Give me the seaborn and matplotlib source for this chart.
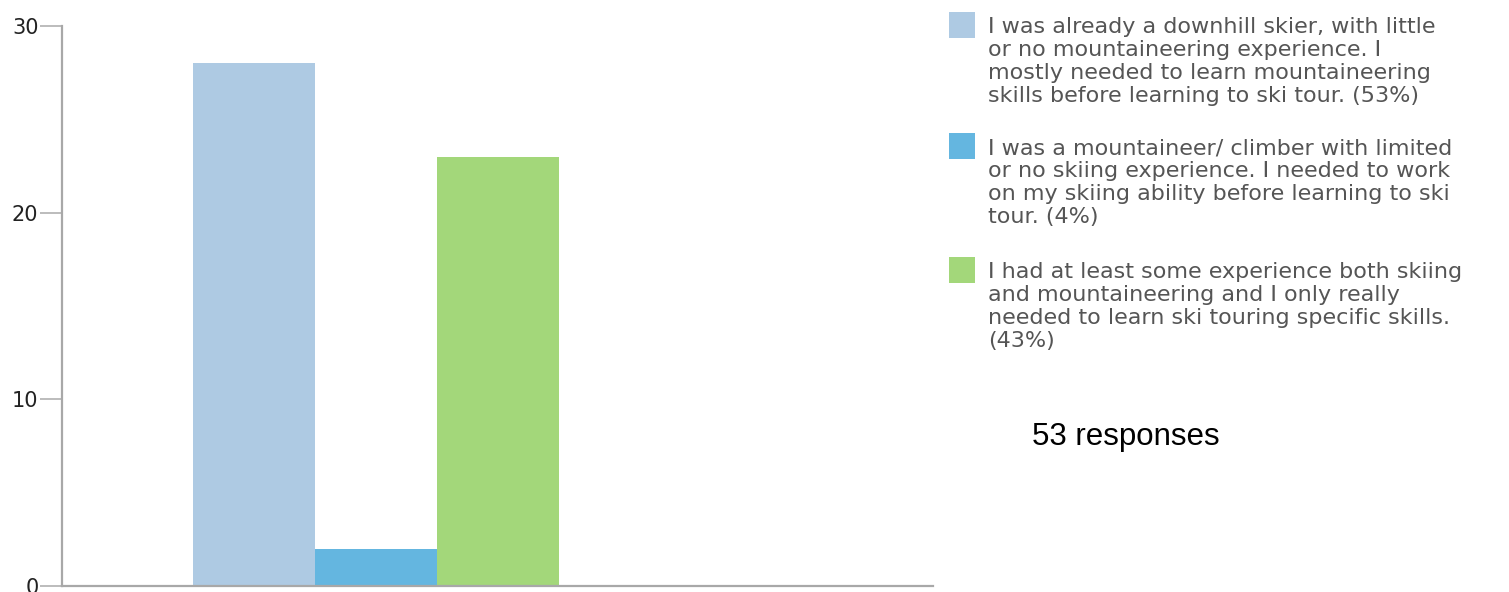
import matplotlib
matplotlib.use("Agg")
import matplotlib.pyplot as plt
import seaborn as sns
from matplotlib.patches import Rectangle

# data
categories = ["downhill", "mountaineer", "both"]
counts = [28, 2, 23]
colors = ["#aecae3", "#64b6e0", "#a3d77a"]
labels = [
    "I was already a downhill skier, with little\nor no mountaineering experience. I\nmostly needed to learn mountaineering\nskills before learning to ski tour. (53%)",
    "I was a mountaineer/ climber with limited\nor no skiing experience. I needed to work\non my skiing ability before learning to ski\ntour. (4%)",
    "I had at least some experience both skiing\nand mountaineering and I only really\nneeded to learn ski touring specific skills.\n(43%)",
]
yticks = [0, 10, 20, 30]

sns.set_style("white")
plt.rcParams['font.family'] = ['DejaVu Sans']

W, H = 1509, 592
fig = plt.figure(figsize=(W / 100, H / 100), dpi=100)
ax = fig.add_axes([62 / W, 1 - 586 / H, (933 - 62) / W, (586 - 26) / H])

sns.barplot(x=categories, y=counts, hue=categories, palette=colors, width=1.0,
            saturation=1, legend=False, linewidth=0, ax=ax)

ax.set_xlim(-1.574, 5.566)
ax.set_ylim(0, 30)
ax.set_yticks(yticks)
ax.set_yticklabels([str(t) for t in yticks], fontsize=15, color="#222222")
ax.set_xticks([])
ax.set_xlabel("")
ax.set_ylabel("")
ax.tick_params(axis="y", length=16, width=1.2, color="#b0b0b0", pad=1, left=True)
for s in ["top", "right"]:
    ax.spines[s].set_visible(False)
for s in ["left", "bottom"]:
    ax.spines[s].set_color("#a8a8a8")
    ax.spines[s].set_linewidth(1.6)

# legend drawn by hand so the squares sit on the first line
entry_tops = [12, 133, 257]
for top, lab, col in zip(entry_tops, labels, colors):
    fig.patches.append(Rectangle((949 / W, 1 - (top + 26) / H), 26 / W, 26 / H,
                                 transform=fig.transFigure, color=col, lw=0))
    fig.text(988 / W, 1 - (top + 5) / H, lab, fontsize=16, color="#555555",
             va="top", ha="left", linespacing=1.19)

fig.text(1032 / W, 1 - 437 / H, "53 responses", fontsize=22.5, color="black",
         family="Liberation Sans", va="center", ha="left")

plt.savefig("out.png", dpi=100)
